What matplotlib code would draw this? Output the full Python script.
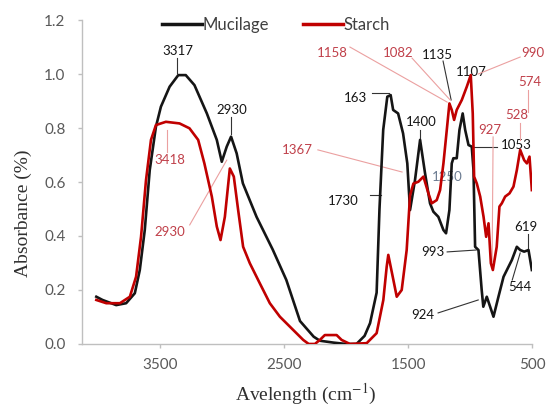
import matplotlib
matplotlib.use("Agg")
import matplotlib.pyplot as plt

# ---- data ----
muc_x = [4010, 3960, 3850, 3770, 3700, 3660, 3620, 3580, 3530, 3490, 3420, 3350, 3290, 3220,
         3120, 3040, 3000, 2960, 2925, 2880, 2830, 2720, 2590, 2480, 2370, 2260, 2210, 2100,
         2000, 1915, 1850, 1806, 1753, 1730, 1700, 1667, 1640, 1620, 1580, 1540, 1506, 1484,
         1444, 1403, 1363, 1323, 1296, 1256, 1215, 1194, 1167, 1148, 1135, 1108, 1086, 1060,
         1040, 1013, 987, 973, 960, 933, 907, 894, 866, 839, 812, 772, 731, 704, 664, 624,
         597, 565, 530, 503]
muc_y = [0.175, 0.163, 0.144, 0.151, 0.188, 0.274, 0.422, 0.644, 0.805, 0.879, 0.953, 0.996,
         0.996, 0.959, 0.854, 0.756, 0.675, 0.731, 0.768, 0.706, 0.595, 0.471, 0.350, 0.237,
         0.085, 0.027, 0.012, 0.005, 0.0, 0.0, 0.030, 0.077, 0.190, 0.500, 0.793, 0.916, 0.922,
         0.867, 0.854, 0.780, 0.669, 0.496, 0.607, 0.756, 0.632, 0.521, 0.490, 0.471, 0.422,
         0.410, 0.496, 0.669, 0.688, 0.688, 0.793, 0.854, 0.793, 0.737, 0.731, 0.644, 0.360,
         0.348, 0.200, 0.138, 0.175, 0.138, 0.101, 0.175, 0.249, 0.274, 0.311, 0.360, 0.348,
         0.342, 0.348, 0.274]

st_x = [4010, 3930, 3820, 3740, 3690, 3650, 3610, 3570, 3530, 3450, 3340, 3260, 3190, 3140,
        3080, 3040, 3010, 2975, 2935, 2903, 2868, 2828, 2774, 2694, 2613, 2532, 2425, 2344,
        2300, 2250, 2210, 2170, 2075, 2035, 1968, 1833, 1753, 1699, 1672, 1659, 1618, 1591,
        1551, 1511, 1484, 1457, 1417, 1376, 1336, 1309, 1269, 1242, 1215, 1188, 1167, 1148,
        1129, 1108, 1067, 1027, 995, 979, 968, 946, 919, 892, 871, 852, 833, 817, 786, 764,
        745, 718, 683, 651, 624, 597, 565, 543, 522, 503]
st_y = [0.163, 0.151, 0.151, 0.175, 0.249, 0.397, 0.607, 0.756, 0.811, 0.823, 0.817, 0.799,
        0.756, 0.669, 0.546, 0.435, 0.385, 0.471, 0.650, 0.620, 0.496, 0.360, 0.299, 0.225,
        0.151, 0.101, 0.052, 0.015, 0.0, 0.0, 0.015, 0.033, 0.033, 0.015, 0.0, 0.003, 0.040,
        0.163, 0.286, 0.330, 0.237, 0.175, 0.200, 0.348, 0.550, 0.594, 0.601, 0.620, 0.558,
        0.521, 0.533, 0.570, 0.669, 0.793, 0.891, 0.867, 0.830, 0.867, 0.904, 0.953, 0.996,
        0.854, 0.620, 0.594, 0.546, 0.471, 0.397, 0.447, 0.299, 0.274, 0.360, 0.509, 0.521,
        0.546, 0.558, 0.583, 0.644, 0.719, 0.681, 0.669, 0.694, 0.570]

series_names = ["Mucilage", "Starch"]
x_ticks = [3500, 2500, 1500, 500]
y_ticks = [0.0, 0.2, 0.4, 0.6, 0.8, 1.0, 1.2]

# peak labels: (text, text x, text y, leader start, leader end)
muc_labels = [
    ("3317", 3355, 1.085, (3363, 1.059), (3363, 1.004)),
    ("2930", 2919, 0.867, (2927, 0.841), (2927, 0.778)),
    ("163", 1925, 0.911, (1790, 0.928), (1653, 0.928)),
    ("1400", 1395, 0.823, (1403, 0.793), (1403, 0.756)),
    ("1730", 2024, 0.531, (1806, 0.552), (1718, 0.552)),
    ("1135", 1266, 1.070, (1218, 1.048), (1153, 0.904)),
    ("1107", 992, 1.007, None, None),
    ("1053", 629, 0.737, (782, 0.730), (984, 0.730)),
    ("993", 1298, 0.341, (1185, 0.341), (952, 0.348)),
    ("924", 1379, 0.107, (1258, 0.115), (935, 0.163)),
    ("619", 548, 0.433, (532, 0.407), (532, 0.348)),
    ("544", 597, 0.211, (661, 0.237), (597, 0.337)),
]
st_labels = [
    ("3418", 3419, 0.681, (3444, 0.711), (3444, 0.793)),
    ("2930", 3419, 0.415, (3258, 0.441), (2960, 0.681)),
    ("1367", 2395, 0.719, (2226, 0.719), (1548, 0.637)),
    ("1158", 2113, 1.078, (1968, 1.100), (1185, 0.896)),
    ("1082", 1581, 1.078, (1468, 1.059), (1161, 0.904)),
    ("990", 492, 1.078, (597, 1.063), (935, 1.000)),
    ("574", 516, 0.970, (532, 0.941), (532, 0.859)),
    ("528", 621, 0.848, (597, 0.819), (597, 0.756)),
    ("927", 839, 0.793, (815, 0.767), (823, 0.304)),
]

plt.rcParams['mathtext.fontset'] = 'stix'
fig = plt.figure(figsize=(5.47, 4.09), dpi=100)
ax = fig.add_axes([0.150, 0.159, 0.823, 0.792])

black = "#151515"
red = "#c00000"
red_txt = "#c0404a"
red_lead = "#eba0a0"
gray = "#595959"
lab = "#303030"

ax.plot(muc_x, muc_y, color=black, lw=1.9, label=series_names[0], zorder=3)
ax.plot(st_x, st_y, color=red, lw=1.9, label=series_names[1], zorder=4)

ax.set_xlim(4125, 500)
ax.set_ylim(0, 1.2)
ax.set_xticks(x_ticks)
ax.set_xticklabels([str(t) for t in x_ticks])
ax.set_yticks(y_ticks)
ax.set_yticklabels([f"{t:.1f}" for t in y_ticks])
for s in ["top", "right"]:
    ax.spines[s].set_visible(False)
for s in ["left", "bottom"]:
    ax.spines[s].set_color("#bfbfbf")
    ax.spines[s].set_linewidth(1.0)
ax.tick_params(axis='both', colors="#bfbfbf", labelcolor=gray, length=3, width=1,
               labelsize=11)
for lbl in ax.get_xticklabels() + ax.get_yticklabels():
    lbl.set_family("Lato")
ax.tick_params(axis='x', pad=7)
ax.tick_params(axis='y', pad=9)

ax.set_ylabel("Absorbance (%)", family="Liberation Serif", fontsize=14, color=lab)
ax.yaxis.set_label_coords(-0.112, 0.405)
ax.set_xlabel("Avelength (cm$^{-1}$)", family="Liberation Serif", fontsize=14, color=lab)
ax.xaxis.set_label_coords(0.496, -0.118)

fs = 9.5
for txt, tx, ty, p0, p1 in muc_labels:
    ax.text(tx, ty, txt, color=black, fontsize=fs, family="Lato", ha="center", va="center",
            zorder=2, clip_on=False)
    if p0 is not None:
        ax.plot([p0[0], p1[0]], [p0[1], p1[1]], color="#333333", lw=0.8, zorder=2)
ax.text(1185, 0.619, "1250", color="#6a7a90", fontsize=fs, family="Lato", ha="center",
        va="center", zorder=1)
for txt, tx, ty, p0, p1 in st_labels:
    ax.text(tx, ty, txt, color=red_txt, fontsize=fs, family="Lato", ha="center", va="center",
            zorder=2, clip_on=False)
    ax.plot([p0[0], p1[0]], [p0[1], p1[1]], color=red_lead, lw=0.8, zorder=2, clip_on=False)

leg = fig.legend(*ax.get_legend_handles_labels(), loc="upper left",
                 bbox_to_anchor=(162 / 547, 1 - 17 / 409), ncol=2, frameon=False,
                 borderpad=0, borderaxespad=0,
                 handlelength=2.4, handletextpad=0.05, columnspacing=2.0,
                 prop={"family": "Lato", "size": 12})
for t in leg.get_texts():
    t.set_color("#404040")
for h in leg.legend_handles:
    h.set_linewidth(2.5)

fig.savefig("out.png", dpi=100)
